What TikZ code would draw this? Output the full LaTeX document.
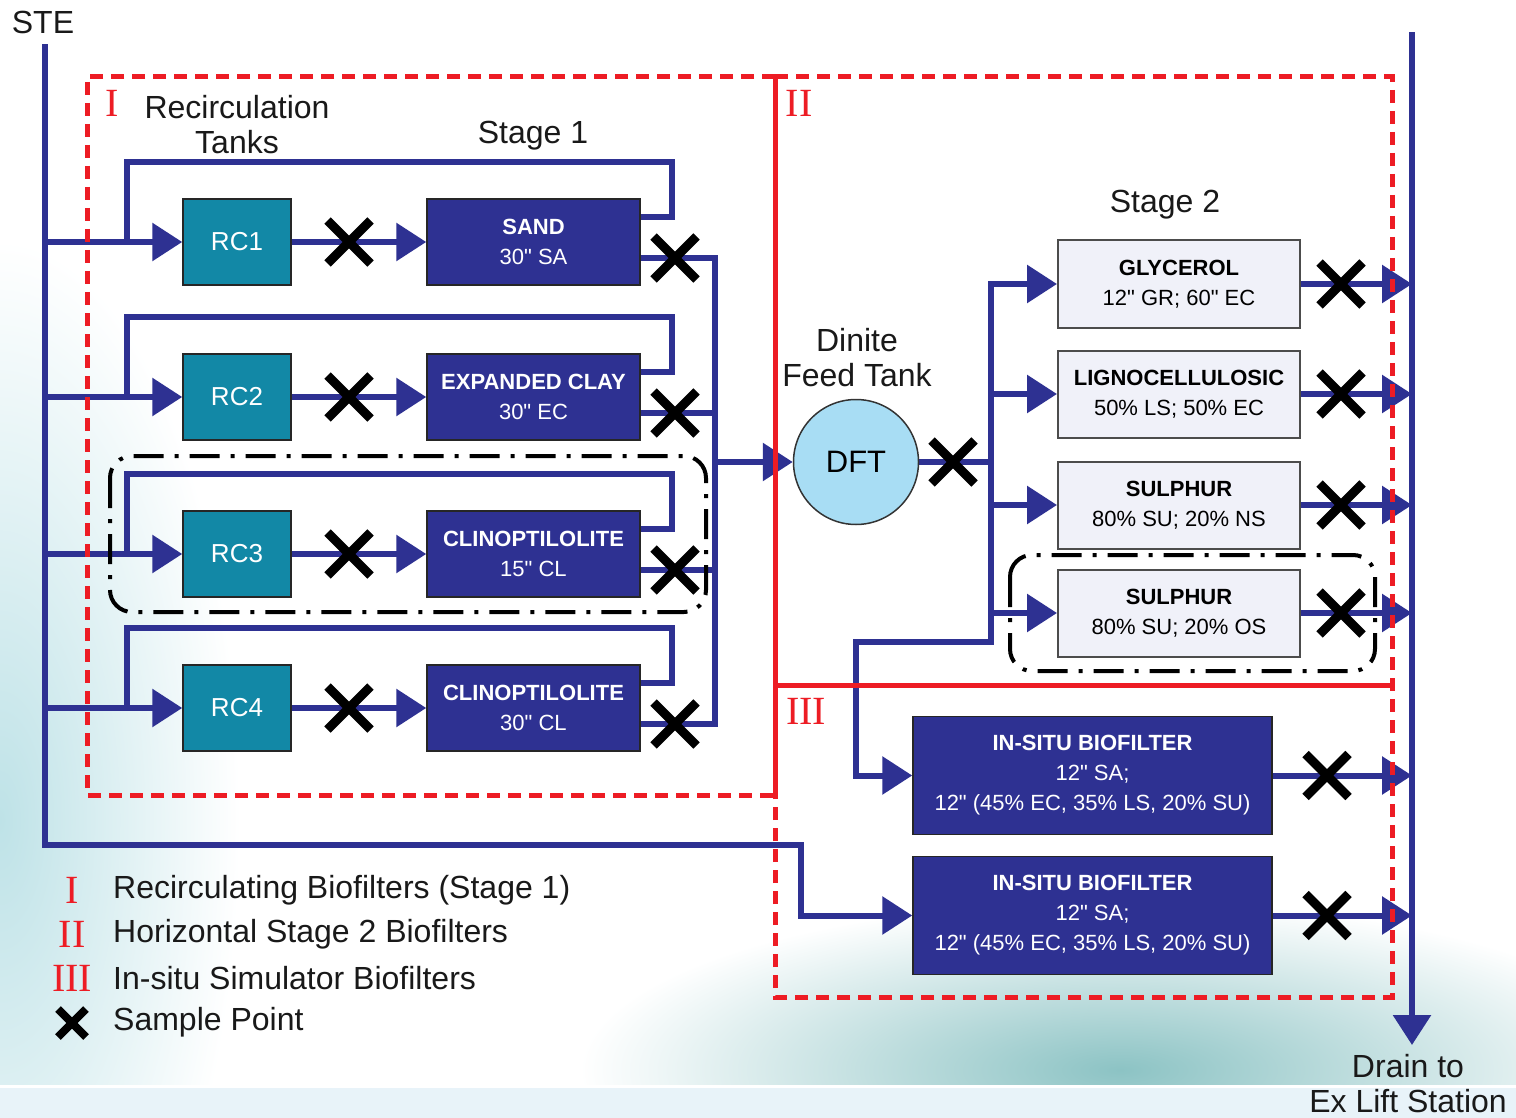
\documentclass[tikz,border=0pt]{standalone}
\usepackage{fontspec}
\setmainfont{Liberation Sans}
\newfontfamily\romanfont{Liberation Serif}
\usetikzlibrary{arrows.meta,shapes.misc}

\definecolor{flowblue}{RGB}{46,49,146}
\definecolor{rcteal}{RGB}{18,136,166}
\definecolor{stagefill}{RGB}{240,241,249}
\definecolor{dftblue}{RGB}{168,221,244}
\definecolor{regred}{RGB}{237,28,36}
\definecolor{bgteal}{RGB}{190,226,231}
\definecolor{watercol}{RGB}{140,195,196}
\definecolor{stripcol}{RGB}{232,243,249}

% inch mark
\newcommand{\inchmark}{\textquotedbl}

\pgfdeclarelayer{bg}
\pgfdeclarelayer{pipes}
\pgfdeclarelayer{zones}
\pgfsetlayers{bg,pipes,zones,main}

\begin{document}
\begin{tikzpicture}[x=1pt,y=-1pt,
  flow/.style={draw=flowblue,line width=6pt,line cap=rect},
  feed/.style={flow,-{Triangle[length=30pt,width=37pt]}},
  tankbox/.style={draw=black!85,line width=1.5pt,fill=rcteal,text=white,
    minimum width=108pt,minimum height=86pt,inner sep=0pt,
    font=\fontsize{26}{30}\selectfont},
  mediabox/.style={draw=black!85,line width=1.5pt,fill=flowblue,text=white,
    minimum width=213pt,minimum height=86pt,inner sep=0pt,align=center,
    font=\fontsize{22}{30}\selectfont},
  stagebox/.style={draw=black!70,line width=2pt,fill=stagefill,text=black,
    minimum width=242pt,minimum height=87pt,inner sep=0pt,align=center,
    font=\fontsize{22}{30}\selectfont},
  insitubox/.style={draw=black!85,line width=1.5pt,fill=flowblue,text=white,
    minimum width=359pt,minimum height=118pt,inner sep=0pt,align=center,
    font=\fontsize{22}{30}\selectfont},
  tanknode/.style={circle,draw=black!80,line width=1.5pt,fill=dftblue,
    minimum size=125pt,inner sep=0pt,font=\fontsize{31}{34}\selectfont},
  smp/.style={cross out,draw=black,line width=9pt,minimum size=34pt,inner sep=0pt},
  lbltext/.style={text=black!90,align=center,inner sep=0pt,
    font=\fontsize{32}{35}\selectfont},
  zonetag/.style={text=regred,inner sep=0pt,font=\romanfont\fontsize{40}{40}\selectfont},
  zonedash/.style={draw=regred,line width=5pt,dash pattern=on 13pt off 8pt},
  zonesolid/.style={draw=regred,line width=5pt},
  groupline/.style={draw=black,line width=4pt,rounded corners=22pt,
    dash pattern=on 30pt off 11pt on 4pt off 11pt}
]
\useasboundingbox (0,0) rectangle (1516,1118);

% ---------- backdrop ----------
\begin{pgfonlayer}{bg}
  \fill[white] (0,0) rectangle (1516,1118);
  \begin{scope}
    \clip (0,0) rectangle (1516,1085);
    \shade[inner color=bgteal,outer color=white] (0,820) ellipse [x radius=240pt,y radius=580pt];
    \shade[inner color=watercol,outer color=white] (1120,1070) ellipse [x radius=540pt,y radius=170pt];
  \end{scope}
  \fill[stripcol] (0,1087) rectangle (1516,1118);
  \draw[white,line width=3pt] (0,1086) -- (1516,1086);
\end{pgfonlayer}

% ---------- labels ----------
\node[lbltext] (ste) at (43,22) {STE};
\node[lbltext] (rtanks) at (237,125) {Recirculation\\Tanks};
\node[lbltext] (stage1) at (533,136) {Stage 1};
\node[lbltext] (stage2) at (1165,205) {Stage 2};
\node[lbltext] (feedtank) at (857,358) {Dinite\\Feed Tank};
\node[lbltext] (drain) at (1408,1084) {Drain to\\Ex Lift Station};

\node[zonetag] (zI) at (112,103) {I};
\node[zonetag] (zII) at (799,103) {II};
\node[zonetag] (zIII) at (806,711) {III};

% ---------- stage 1 ----------
\node[tankbox] (rc1) at (237,242) {RC1};
\node[tankbox] (rc2) at (237,397) {RC2};
\node[tankbox] (rc3) at (237,554) {RC3};
\node[tankbox] (rc4) at (237,708) {RC4};

\node[mediabox] (m1) at (533.5,242) {\textbf{SAND}\\30\inchmark{} SA};
\node[mediabox] (m2) at (533.5,397) {\textbf{EXPANDED CLAY}\\30\inchmark{} EC};
\node[mediabox] (m3) at (533.5,554) {\textbf{CLINOPTILOLITE}\\15\inchmark{} CL};
\node[mediabox] (m4) at (533.5,708) {\textbf{CLINOPTILOLITE}\\30\inchmark{} CL};

% ---------- stage 2 ----------
\node[tanknode] (dft) at (856,462) {DFT};

\node[stagebox] (g1) at (1179,284) {\textbf{GLYCEROL}\\12\inchmark{} GR; 60\inchmark{} EC};
\node[stagebox] (g2) at (1179,394) {\textbf{LIGNOCELLULOSIC}\\50\% LS; 50\% EC};
\node[stagebox] (g3) at (1179,505) {\textbf{SULPHUR}\\80\% SU; 20\% NS};
\node[stagebox] (g4) at (1179,613) {\textbf{SULPHUR}\\80\% SU; 20\% OS};

% ---------- in-situ ----------
\node[insitubox] (is1) at (1092.5,775.5) {\textbf{IN-SITU BIOFILTER}\\12\inchmark{} SA;\\12\inchmark{} (45\% EC, 35\% LS, 20\% SU)};
\node[insitubox] (is2) at (1092.5,915.5) {\textbf{IN-SITU BIOFILTER}\\12\inchmark{} SA;\\12\inchmark{} (45\% EC, 35\% LS, 20\% SU)};

% ---------- pipe junctions ----------
\coordinate (steTop) at (45,47);
\coordinate (steCorner) at (45,845);
\coordinate (bypass) at (801,845);
\coordinate (collect) at (715,462);
\coordinate (split) at (991,462);
\coordinate (busTop) at (991,284);
\coordinate (busBot) at (991,642);
\coordinate (busTurn) at (856,642);
\coordinate (drainTop) at (1412,35);
\coordinate (drainEnd) at (1412,1045);

\begin{pgfonlayer}{pipes}
  % raw feed line and by-pass to the second in-situ column
  \draw[feed] (steTop) -- (steCorner) -- (bypass) |- (is2.west);
  % stage 1 rows: feed, recirculation loop, transfer, outlet
  \foreach \i/\y in {1/242,2/397,3/554,4/708}{
    \draw[feed] (steTop |- rc\i.west) -- (rc\i.west);
    \draw[flow] (127,\y) -- (127,\y-80) -- (672,\y-80) -- (672,\y-25) -- ([yshift=25pt]m\i.east);
    \draw[feed] (rc\i.east) -- (m\i.west);
    \draw[flow] ([yshift=-16pt]m\i.east) -- (715,\y+16);
  }
  \draw[flow] ([yshift=-16pt]m1.east) -| (collect) |- ([yshift=-16pt]m4.east);
  \draw[feed] (collect) -- (dft.west);
  % feed tank to stage 2 distribution bus
  \draw[flow] (dft.east) -- (split);
  \draw[flow] (busTop) -- (busBot);
  \foreach \i in {1,...,4}{
    \draw[feed] (busTop |- g\i.west) -- (g\i.west);
    \draw[feed] (g\i.east) -- (g\i.east -| drainTop);
  }
  \draw[feed] (busBot) -- (busTurn) |- (is1.west);
  \draw[feed] (is1.east) -- (is1.east -| drainTop);
  \draw[feed] (is2.east) -- (is2.east -| drainTop);
  % drain
  \draw[feed] (drainTop) -- (drainEnd);
\end{pgfonlayer}

% ---------- zones ----------
\begin{pgfonlayer}{zones}
  \draw[zonedash] (775,77) -- (87,77) -- (87,795) -- (775,795);
  \draw[zonedash] (775,77) -- (1392,77) -- (1392,997) -- (775,997) -- (775,795);
  \draw[zonesolid] (775,75) -- (775,795);
  \draw[zonesolid] (775,685) -- (1394,685);
  \draw[groupline] (110,456) rectangle (706,612);
  \draw[groupline] (1010,555) rectangle (1375,671);
\end{pgfonlayer}

% ---------- sample points ----------
\node[smp] (x1a) at (349,242) {};
\node[smp] (x2a) at (349,397) {};
\node[smp] (x3a) at (349,554) {};
\node[smp] (x4a) at (349,708) {};
\node[smp] (x1b) at (675,258) {};
\node[smp] (x2b) at (675,413) {};
\node[smp] (x3b) at (675,570) {};
\node[smp] (x4b) at (675,724) {};
\node[smp] (xdft) at (953,462) {};
\node[smp] (xg1) at (1341,284) {};
\node[smp] (xg2) at (1341,394) {};
\node[smp] (xg3) at (1341,505) {};
\node[smp] (xg4) at (1341,613) {};
\node[smp] (xis1) at (1327,775.5) {};
\node[smp] (xis2) at (1327,915.5) {};

% ---------- legend ----------
\node[zonetag] (legI) at (72,890) {I};
\node[zonetag] (legII) at (72,934) {II};
\node[zonetag] (legIII) at (72,978) {III};
\node[smp,minimum size=20pt,line width=8pt] (legX) at (72,1023) {};
\node[lbltext,anchor=west] (legIt) at (113,890) {Recirculating Biofilters (Stage 1)};
\node[lbltext,anchor=west] (legIIt) at (113,934) {Horizontal Stage 2 Biofilters};
\node[lbltext,anchor=west] (legIIIt) at (113,978) {In-situ Simulator Biofilters};
\node[lbltext,anchor=west] (legXt) at (113,1022) {Sample Point};
\end{tikzpicture}
\end{document}
